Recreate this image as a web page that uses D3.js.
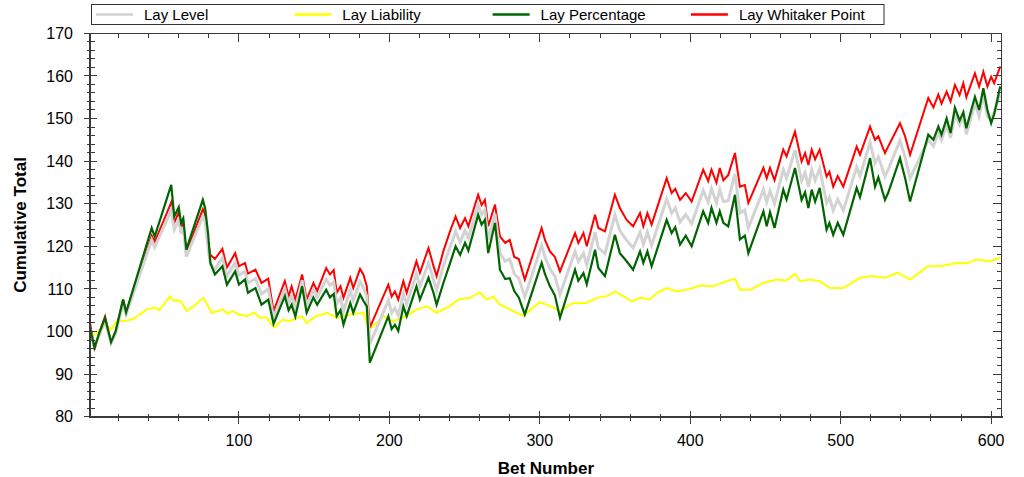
<!DOCTYPE html>
<html><head><meta charset="utf-8">
<script src="https://cdn.jsdelivr.net/npm/d3@7"></script>
<style>
body{margin:0;background:#fff}
svg{display:block}
text{font-family:"Liberation Sans",Arial,sans-serif;fill:#000}
</style>
</head><body>
<svg id="chart" width="1024" height="477"></svg>
<script>
// ---------- DATA ----------
const seriesNames = ["Lay Level", "Lay Liability", "Lay Percentage", "Lay Whitaker Point"];
const seriesColors = ["#d3d3d3", "#ffff00", "#006400", "#ff0000"];

// key bets (shared by Level / Percentage / Whitaker)
const bets = [1,4,7,11,15,18,23,25,42,44,55,57,60,61.5,63,65,76,77.5,79.5,81,84,89,92,97.5,100,104,106,111,115,119.5,123,130.5,133,135,137.5,142,145,149.5,152,158,160.5,163,165,167.5,169.5,174,176,180.5,182.7,185,187,199.3,201.5,203.7,205.9,209.3,211.5,218,220.3,226,229.3,231.4,236,240.3,244,247,250.3,252.5,259,261.3,263.5,265.7,270.2,273.5,277,280,283,286,290,301.2,303.4,306.7,310,313.4,323.4,325.6,329,331.2,336.7,338.9,343.3,349.9,353.2,357.7,362,366.6,368.8,371.5,374.3,384.3,387.6,390,393.2,397,400.9,408.6,411.9,414.1,417.4,419.6,422,425.2,429.7,433,436.3,438.6,448.6,450.8,453,456,461.8,464,469.6,474,476.3,478.5,480.7,483,486,490.6,492.5,495,498,501.7,510.6,512.8,519.5,522.8,525,529.4,531.5,539.4,542.8,546.1,558.2,561.6,564.9,567,570.4,573,575.9,579,581.5,583.5,589.2,592,594.8,597.5,600,602,606];

const layWhitaker = [102.0,95.8,99.5,103.5,97.5,100.0,107.5,104.5,122.5,121.0,130.3,125.5,128.0,124.5,125.5,118.5,128.7,127.5,121.0,118.0,117.0,119.4,115.0,118.4,115.3,116.1,113.6,114.5,111.4,112.4,104.8,111.8,108.2,110.6,107.5,113.4,107.5,111.4,109.5,114.9,113.4,114.4,109.1,110.6,107.9,112.6,110.2,114.7,113.4,110.6,100.9,111.0,108.2,109.4,107.5,111.8,109.1,116.5,113.8,119.6,115.4,113.0,119.0,123.5,127.0,124.3,126.6,124.7,132.1,129.7,130.9,124.7,129.8,122.3,120.8,121.5,117.5,117.0,112.2,124.3,121.5,118.8,117.5,114.1,123.1,120.8,123.1,120.0,127.4,124.3,123.5,132.1,129.0,126.2,124.7,127.8,124.7,127.8,125.1,136.0,132.5,133.5,130.9,132.5,130.5,138.0,135.3,138.0,134.9,138.4,135.5,136.7,141.9,134.0,134.4,130.2,138.4,136.0,138.4,135.5,142.7,141.1,146.9,139.9,141.9,139.1,142.7,140.4,142.7,136.4,137.5,134.0,136.5,134.0,143.4,141.5,148.1,145.0,145.8,141.9,143.4,148.9,145.8,141.5,154.8,152.6,155.6,153.5,156.3,154.0,157.9,155.5,158.3,155.0,160.6,157.5,161.0,157.5,159.8,158.3,162.2];

const layLevel = [100.5,96.5,99.0,102.5,97.3,99.5,106.5,104.0,121.5,119.8,128.5,123.9,126.2,123.0,124.5,117.6,127.0,126.0,119.5,116.0,114.5,117.3,113.0,116.2,113.2,114.1,111.4,112.4,108.8,110.0,103.3,110.0,106.6,108.5,105.5,112.0,106.0,109.8,108.0,112.3,110.8,111.6,106.5,107.9,104.8,109.7,107.3,111.7,110.3,108.2,97.0,107.3,104.4,105.5,103.8,108.8,106.4,113.5,110.6,116.1,112.2,109.7,115.5,119.8,123.5,121.0,123.7,122.0,129.7,127.4,128.5,121.5,127.6,118.4,116.5,117.0,113.5,112.5,108.1,120.2,117.5,114.7,113.0,108.7,118.8,116.4,118.4,115.6,123.3,119.6,118.3,127.4,123.7,121.4,119.6,123.3,120.4,123.3,120.2,131.1,127.8,129.0,125.7,127.5,125.3,133.1,130.4,133.5,130.2,133.3,130.5,130.7,137.0,127.8,128.5,124.3,133.3,130.4,133.0,130.0,138.0,136.0,142.6,135.4,137.3,134.0,138.0,135.5,138.2,130.2,131.5,128.4,131.0,128.4,138.6,136.5,144.4,139.5,141.0,136.4,138.0,144.8,140.9,136.0,145.0,143.5,146.8,145.0,148.5,145.5,151.0,148.5,150.5,146.3,153.5,150.5,155.5,150.5,149.7,151.5,155.5];

const layPercentage = [101.0,96.2,99.5,103.2,97.5,100.0,107.5,104.5,124.3,122.3,134.4,127.0,129.2,125.5,126.6,119.2,130.9,129.0,123.0,116.1,113.4,115.3,111.0,114.1,111.0,112.2,109.1,110.2,106.3,107.5,101.8,108.3,105.0,106.3,103.5,110.6,104.4,108.0,106.3,109.8,108.0,108.8,103.6,105.0,101.6,106.7,104.4,108.7,107.2,105.9,92.7,103.6,100.6,101.6,100.1,105.9,103.6,110.6,107.5,112.6,109.1,106.3,111.5,116.0,120.0,118.0,120.8,119.0,127.4,125.1,126.2,118.4,125.5,114.5,112.3,112.5,109.5,108.0,104.0,116.1,113.5,110.6,108.5,103.2,114.5,111.9,113.7,111.1,119.2,114.9,113.0,122.7,118.4,116.5,114.5,118.8,116.1,118.8,115.3,126.2,123.1,124.5,120.4,122.5,120.0,128.2,125.5,129.0,125.5,128.2,125.5,124.7,132.1,121.6,122.5,118.4,128.2,124.7,128.0,124.3,133.3,131.0,138.4,130.9,132.7,129.0,133.3,130.5,133.7,123.9,125.5,122.7,125.5,122.7,133.7,131.5,140.7,134.0,136.2,130.9,132.5,140.7,136.0,130.5,146.2,145.0,148.1,146.2,150.0,146.6,152.5,149.5,151.5,147.7,155.1,152.0,157.1,152.0,148.9,151.0,157.5];

// Lay Liability read separately
const liabilityBets = [1,3,5,11,15,18.7,25,30,38.7,44,47,54.3,56.6,60,62,65.3,70,76.3,81.9,86,89.6,92,96,100,105,110,114,118,122.8,124,129,133.5,142,145,151,159,165,174,182.7,186,188,196,202.6,211.5,218,225,231.4,240,246,253.6,260,264.6,269,273.5,280,289,300,306.7,313.4,322,331,338,344.5,350,355.5,361,367,373,378,384.3,391,400,406,415,424,429.7,433,440,448.6,457.5,464,469.6,473,480,486,493,501.7,512.8,520.6,529,538,546,558,566,577,584,590,599,606];
const layLiability = [100.0,99.2,99.5,101.6,100.5,102.4,102.5,103.0,105.2,105.6,105.0,108.3,107.2,107.3,106.7,104.8,106.0,107.9,104.4,104.8,105.2,104.2,104.8,104.0,103.6,104.4,103.2,103.4,101.2,101.0,102.8,102.4,103.6,102.0,103.6,104.4,103.2,104.0,104.4,101.2,100.8,103.6,102.4,103.6,105.2,105.9,104.4,105.9,107.5,107.9,109.2,107.5,108.2,106.3,105.2,103.7,106.9,106.0,104.8,106.7,106.7,107.9,108.3,109.4,108.3,107.1,107.9,107.5,109.1,110.2,109.4,110.0,110.8,110.6,111.8,112.4,109.8,109.8,111.4,112.2,112.0,113.5,111.8,112.2,111.8,110.2,110.2,112.6,113.0,112.6,113.8,112.2,115.3,115.3,116.1,116.0,116.9,116.5,117.3];

// axis ticks
const xDomain = [1, 607];
const yDomain = [80, 170];
const xMajorTicks = [100, 200, 300, 400, 500, 600];
const xMinorTicks = d3.range(20, 607, 20);
const yMajorTicks = [80, 90, 100, 110, 120, 130, 140, 150, 160, 170];
const yMinorTicks = d3.range(80, 171, 2);
const xTitle = "Bet Number";
const yTitle = "Cumulative Total";

// ---------- DRAW ----------
const svg = d3.select("#chart");
const L = 90, R = 1001.7, T = 33.3, B = 416.7;
const x = d3.scaleLinear().domain(xDomain).range([L, R]);
const y = d3.scaleLinear().domain(yDomain).range([B, T]);
const axisColor = "#3a3a3a";

// series lines
const lineGen = (xs) => d3.line().x((d, i) => x(xs[i])).y(d => y(d));
const drawSeries = (xs, vals, color, width) =>
  svg.append("path").datum(vals).attr("d", lineGen(xs))
    .attr("fill", "none").attr("stroke", color).attr("stroke-width", width)
    .attr("stroke-linejoin", "miter").attr("stroke-linecap", "butt");

drawSeries(liabilityBets, layLiability, seriesColors[1], 2);
drawSeries(bets, layWhitaker, seriesColors[3], 2);
drawSeries(bets, layLevel, seriesColors[0], 3);
drawSeries(bets, layPercentage, seriesColors[2], 2.2);

// frame
const g = svg.append("g").attr("stroke", axisColor).attr("shape-rendering", "crispEdges");
g.append("line").attr("x1", L).attr("x2", R).attr("y1", T).attr("y2", T).attr("stroke-width", 1);
g.append("line").attr("x1", R).attr("x2", R).attr("y1", T).attr("y2", B).attr("stroke-width", 1);
g.append("line").attr("x1", L).attr("x2", L).attr("y1", T).attr("y2", B + 1).attr("stroke-width", 2);
g.append("line").attr("x1", L).attr("x2", R + 1).attr("y1", B).attr("y2", B).attr("stroke-width", 2);

// left ticks (crossing)
yMinorTicks.forEach(v => g.append("line").attr("x1", L - 3).attr("x2", L + 5).attr("y1", y(v)).attr("y2", y(v)));
yMajorTicks.forEach(v => g.append("line").attr("x1", L - 6).attr("x2", L + 7).attr("y1", y(v)).attr("y2", y(v)));
// right ticks (inside)
yMinorTicks.forEach(v => g.append("line").attr("x1", R - 5).attr("x2", R).attr("y1", y(v)).attr("y2", y(v)));
yMajorTicks.forEach(v => g.append("line").attr("x1", R - 9).attr("x2", R).attr("y1", y(v)).attr("y2", y(v)));
// bottom ticks (crossing)
xMinorTicks.forEach(v => g.append("line").attr("x1", x(v)).attr("x2", x(v)).attr("y1", B - 3).attr("y2", B + 4));
xMajorTicks.forEach(v => g.append("line").attr("x1", x(v)).attr("x2", x(v)).attr("y1", B - 6).attr("y2", B + 7));
// top ticks (inside)
xMinorTicks.forEach(v => g.append("line").attr("x1", x(v)).attr("x2", x(v)).attr("y1", T).attr("y2", T + 5));
xMajorTicks.forEach(v => g.append("line").attr("x1", x(v)).attr("x2", x(v)).attr("y1", T).attr("y2", T + 9));

// tick labels
svg.append("g").selectAll("text").data(yMajorTicks).join("text")
  .attr("x", L - 17).attr("y", d => y(d)).attr("dy", "0.36em")
  .attr("text-anchor", "end").attr("font-size", 16).text(d => d);
svg.append("g").selectAll("text").data(xMajorTicks).join("text")
  .attr("x", d => x(d)).attr("y", 446)
  .attr("text-anchor", "middle").attr("font-size", 16).text(d => d);

// titles
svg.append("text").attr("x", (L + R) / 2).attr("y", 474).attr("text-anchor", "middle")
  .attr("font-size", 17).attr("font-weight", "bold").text(xTitle);
svg.append("text").attr("transform", `translate(26,${(T + B) / 2}) rotate(-90)`)
  .attr("text-anchor", "middle").attr("font-size", 17).attr("font-weight", "bold").text(yTitle);

// legend
const lg = svg.append("g");
lg.append("rect").attr("x", 91.5).attr("y", 4.5).attr("width", 792.5).attr("height", 20)
  .attr("fill", "#fff").attr("stroke", "#333").attr("stroke-width", 1);
seriesNames.forEach((name, i) => {
  const ox = 96 + i * 198.3;
  lg.append("line").attr("x1", ox).attr("x2", ox + 37).attr("y1", 14.5).attr("y2", 14.5)
    .attr("stroke", seriesColors[i]).attr("stroke-width", 2.5);
  lg.append("text").attr("x", ox + 48).attr("y", 14.5).attr("dy", "0.36em")
    .attr("font-size", 15).text(name);
});
</script>
</body></html>
